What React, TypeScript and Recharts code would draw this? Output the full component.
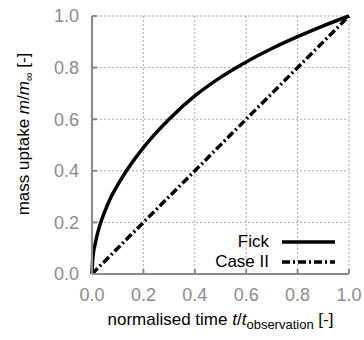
import React from "react";
import {
  LineChart,
  Line,
  XAxis,
  YAxis,
  CartesianGrid,
  Label,
} from "recharts";

// normalised time values
const fickTime = [0, 0.003, 0.013, 0.034, 0.05, 0.075, 0.1, 0.134, 0.2, 0.25, 0.3, 0.4, 0.5, 0.6, 0.7, 0.8, 0.9, 1.0];
const fickUptake = [0, 0.06, 0.12, 0.2, 0.243, 0.3, 0.345, 0.4, 0.49, 0.548, 0.6, 0.69, 0.762, 0.822, 0.874, 0.92, 0.962, 1.0];

const caseTime = [0, 1.0];
const caseUptake = [0, 1.0];

const ticks = [0, 0.2, 0.4, 0.6, 0.8, 1.0];

const seriesNames = ["Fick", "Case II"];
const seriesDash = [undefined, "8 3 2 3"];

const fickData = fickTime.map((t, i) => ({ t, m: fickUptake[i] }));
const caseData = caseTime.map((t, i) => ({ t, m: caseUptake[i] }));

const FONT = "'Liberation Sans', Arial, Helvetica, sans-serif";
const AXIS_GREY = "#8c8c8c";

// legend sits inside the plot, bottom right
const ChartLegend = () => (
  <div style={{ position: "absolute", top: 232, right: 28, fontFamily: FONT, fontSize: 17, color: "#000" }}>
    {seriesNames.map((name, i) => (
      <div
        key={name}
        style={{ display: "flex", alignItems: "center", justifyContent: "flex-end", height: 20, lineHeight: "20px" }}
      >
        <span>{name}</span>
        <svg width={54} height={20} style={{ marginLeft: 13 }}>
          <line x1={0} x2={53} y1={10} y2={10} stroke="#000" strokeWidth={3.5} strokeDasharray={seriesDash[i]} />
        </svg>
      </div>
    ))}
  </div>
);

const XLabel = ({ viewBox }: any) => {
  const { x, y, width } = viewBox;
  return (
    <text x={x + width / 2} y={y + 51} textAnchor="middle" fontFamily={FONT} fontSize={17} fill="#000">
      normalised time <tspan fontStyle="italic">t</tspan>/<tspan fontStyle="italic">t</tspan>
      <tspan fontSize={13} dy={4}>observation</tspan>
      <tspan dy={-4}> [-]</tspan>
    </text>
  );
};

const YLabel = ({ viewBox }: any) => {
  const { y, height } = viewBox;
  return (
    <text
      transform={`translate(29, ${y + height / 2 - 11}) rotate(-90)`}
      textAnchor="middle"
      fontFamily={FONT}
      fontSize={17}
      fill="#000"
    >
      mass uptake <tspan fontStyle="italic">m</tspan>/<tspan fontStyle="italic">m</tspan>
      <tspan fontSize={12} dy={4}>∞</tspan>
      <tspan dy={-4}> [-]</tspan>
    </text>
  );
};

export default function App() {
  return (
    <div style={{ position: "absolute", left: 0, top: 0, width: 364, height: 340, background: "#fff" }}>
      <LineChart width={364} height={340} margin={{ top: 16, right: 15, left: 0, bottom: 0 }}>
        <CartesianGrid stroke="#ababab" strokeDasharray="2 2" strokeWidth={1} />
        <XAxis
          type="number"
          dataKey="t"
          domain={[0, 1]}
          ticks={ticks}
          tickFormatter={(v: number) => v.toFixed(1)}
          height={66}
          axisLine={{ stroke: AXIS_GREY, strokeWidth: 2.2 }}
          tickLine={{ stroke: AXIS_GREY, strokeWidth: 2 }}
          tickSize={-5}
          tickMargin={19}
          tick={{ fill: AXIS_GREY, fontSize: 18, fontFamily: FONT }}
          allowDuplicatedCategory={false}
        >
          <Label content={<XLabel />} />
        </XAxis>
        <YAxis
          type="number"
          dataKey="m"
          domain={[0, 1]}
          ticks={ticks}
          tickFormatter={(v: number) => v.toFixed(1)}
          width={92}
          axisLine={{ stroke: AXIS_GREY, strokeWidth: 2.2 }}
          tickLine={{ stroke: AXIS_GREY, strokeWidth: 2 }}
          tickSize={-5}
          tickMargin={18}
          tick={{ fill: AXIS_GREY, fontSize: 18, fontFamily: FONT }}
        >
          <Label content={<YLabel />} />
        </YAxis>
        <Line
          data={fickData}
          dataKey="m"
          name={seriesNames[0]}
          type="monotone"
          stroke="#000"
          strokeWidth={3.5}
          dot={false}
          isAnimationActive={false}
        />
        <Line
          data={caseData}
          dataKey="m"
          name={seriesNames[1]}
          type="linear"
          stroke="#000"
          strokeWidth={3.5}
          strokeDasharray={seriesDash[1]}
          dot={false}
          isAnimationActive={false}
        />
      </LineChart>
      <ChartLegend />
    </div>
  );
}
